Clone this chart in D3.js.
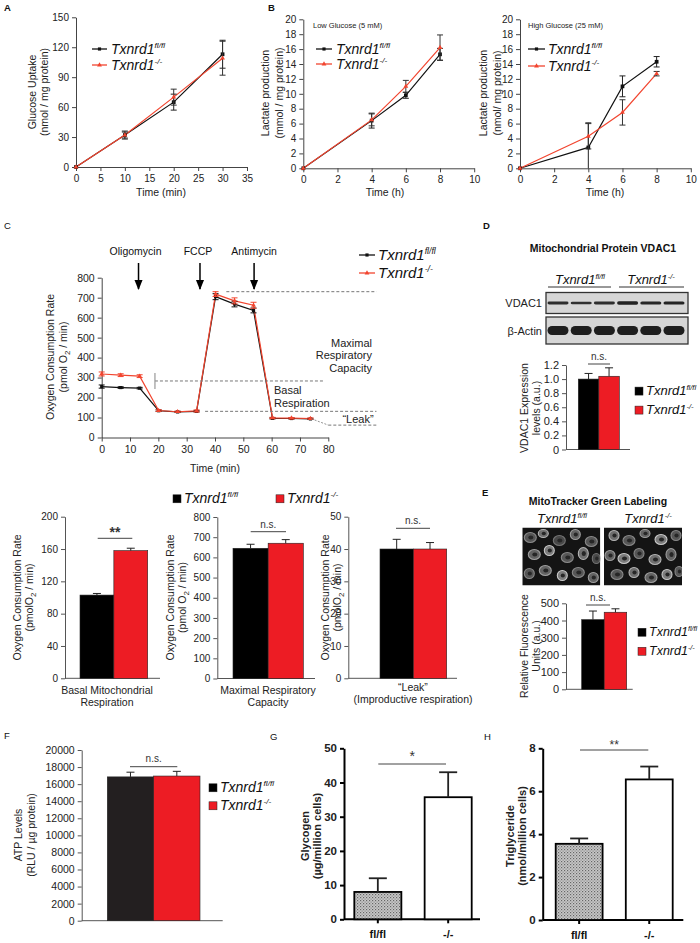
<!DOCTYPE html>
<html><head><meta charset="utf-8">
<script src="https://cdn.jsdelivr.net/npm/d3@7"></script>
<style>body{margin:0;background:#fff}svg{display:block}</style>
</head><body><svg id="chart" width="700" height="943"></svg>
<script>
// ---------------- DATA ----------------
const genotypes = ["fl/fl", "-/-"];
// A: glucose uptake
const glucTime = [0, 10, 20, 30];
const glucFl = [0, 32, 65, 113];
const glucFlErr = [0, 4, 8, 14];
const glucKo = [0, 32, 70, 109];
const glucKoErr = [0, 3, 8, 17];
const glucXTicks = [0, 5, 10, 15, 20, 25, 30, 35];
const glucYTicks = [0, 30, 60, 90, 120, 150];
// B: lactate production
const lacTime = [0, 4, 6, 8];
const lacLowFl = [0, 6.4, 9.8, 15.3];
const lacLowFlErr = [0, 1.0, 0.4, 0.8];
const lacLowKo = [0, 6.5, 11.0, 16.2];
const lacLowKoErr = [0, 0.8, 0.8, 1.7];
const lacHighFl = [0, 2.8, 11.0, 14.3];
const lacHighFlErr = [0, 3.3, 1.4, 0.7];
const lacHighKo = [0, 4.3, 7.5, 12.7];
const lacHighKoErr = [0, 1.7, 1.7, 0.3];
const lacXTicks = [0, 2, 4, 6, 8, 10];
const lacYTicks = [0, 2, 4, 6, 8, 10, 12, 14, 16, 18, 20];
// C: oxygen consumption trace
const ocrTime = [0, 6.7, 13.4, 20.1, 26.8, 33.5, 40.2, 46.9, 53.6, 60.3, 67, 73.7];
const ocrFl = [255, 250, 247, 134, 128, 131, 705, 668, 636, 96, 95, 93];
const ocrFlErr = [8, 4, 4, 4, 3, 3, 15, 14, 12, 3, 3, 3];
const ocrKo = [318, 312, 307, 135, 129, 133, 718, 684, 662, 98, 97, 95];
const ocrKoErr = [10, 7, 7, 4, 3, 5, 12, 15, 15, 3, 3, 3];
const ocrXTicks = [0, 10, 20, 30, 40, 50, 60, 70, 80];
const ocrYTicks = [0, 100, 200, 300, 400, 500, 600, 700, 800];
const injections = ["Oligomycin", "FCCP", "Antimycin"];
const injectionTimes = [13, 34.7, 53.8];
// C: summary bars
const basalResp = [103, 158];
const basalRespErr = [2, 3];
const maxResp = [645, 670];
const maxRespErr = [20, 18];
const leakResp = [40, 40];
const leakRespErr = [3, 2];
// D: VDAC1
const vdac1Expr = [1.0, 1.04];
const vdac1Err = [0.08, 0.12];
const vdac1Bands = [0.8, 0.75, 0.8, 0.95, 0.9, 0.92];
const actinBands = [1, 1, 1, 1, 1, 1];
// E: MitoTracker
const mitoFluor = [405, 448];
const mitoErr = [50, 20];
// F: ATP
const atpLevels = [16850, 16950];
const atpErr = [550, 550];
// G: glycogen
const glycogen = [8, 35.7];
const glycogenErr = [4, 7.3];
// H: triglyceride
const triglyceride = [3.55, 6.55];
const triglycerideErr = [0.25, 0.6];

// decorative micrograph cells (relative to image): cx, cy, rx, ry, brightness
const cellsFl = [[8,10,6,5,0.6],[21,6,5,4,0.8],[37,13,6,5,0.5],[53,7,5,5,0.7],[69,14,6,5,0.6],[12,27,6,5,0.7],[27,23,5,5,0.9],[45,30,6,5,0.6],[61,26,5,6,0.8],[74,31,4,5,0.5],[7,46,5,5,0.6],[23,43,6,5,0.7],[40,48,5,5,0.9],[56,45,6,5,0.6],[71,50,5,5,0.7]];
const cellsKo = [[10,8,5,5,0.8],[25,13,6,5,0.6],[41,6,5,4,0.7],[57,12,6,5,0.9],[72,8,5,5,0.6],[6,28,5,5,0.7],[20,31,6,5,0.9],[35,26,5,5,0.6],[51,32,6,5,0.8],[67,27,5,6,0.7],[13,47,6,5,0.6],[30,45,5,5,0.8],[47,50,6,5,0.7],[63,47,5,5,0.9],[75,44,4,5,0.6]];

// ---------------- HELPERS ----------------
const FONT = '"Liberation Sans", Arial, Helvetica, sans-serif';
const LRED = "#f2452f", BRED = "#ed1c24", BBLK = "#000";
const svg = d3.select("#chart").attr("font-family", FONT);
const defs = svg.append("defs");

function styleAxis(a, fs, color, weight, sw) {
  a.attr("font-family", FONT).attr("font-size", fs);
  a.select(".domain").attr("stroke", color).attr("stroke-width", sw || 1);
  a.selectAll(".tick line").attr("stroke", color).attr("stroke-width", sw || 1);
  a.selectAll(".tick text").attr("fill", "#222").attr("font-weight", weight || "normal");
}
function geno(x, y, sup, fs, anchor) {
  const t = svg.append("text").attr("x", x).attr("y", y).attr("font-size", fs)
    .attr("font-style", "italic").attr("text-anchor", anchor || "start").attr("fill", "#111");
  t.append("tspan").text("Txnrd1");
  t.append("tspan").attr("dy", -fs * 0.42).attr("font-size", fs * 0.58).text(sup);
  return t;
}
function supOf(c) { return c === "fl/fl" ? "fl/fl" : "-/-"; }
function vlabel(xs, cy, lines, fs, weight) {
  lines.forEach((segs, i) => {
    const t = svg.append("text").attr("transform", `translate(${xs[i]},${cy}) rotate(-90)`)
      .attr("text-anchor", "middle").attr("font-size", fs).attr("fill", "#222").attr("font-weight", weight || "normal");
    if (typeof segs === "string") { t.text(segs); return; }
    segs.forEach(s => {
      if (s.sub) {
        t.append("tspan").attr("dy", fs * 0.3).attr("font-size", fs * 0.75).text(s.sub);
        t.append("tspan").attr("dy", -fs * 0.3).text(s.after || "");
      } else t.append("tspan").text(s.t);
    });
  });
}
function txt(x, y, s, fs, anchor, weight, fill) {
  return svg.append("text").attr("x", x).attr("y", y).attr("font-size", fs)
    .attr("text-anchor", anchor || "start").attr("font-weight", weight || "normal").attr("fill", fill || "#222").text(s);
}

function lineChart(o) {
  const g = svg.append("g");
  const x = d3.scaleLinear().domain(o.xd).range(o.xr);
  const y = d3.scaleLinear().domain(o.yd).range(o.yr);
  const ax = g.append("g").attr("transform", `translate(0,${o.yr[0]})`)
    .call(d3.axisBottom(x).tickValues(o.xt).tickSizeInner(4).tickSizeOuter(0).tickPadding(4));
  const ay = g.append("g").attr("transform", `translate(${o.xr[0]},0)`)
    .call(d3.axisLeft(y).tickValues(o.yt).tickSizeInner(4).tickSizeOuter(0).tickPadding(3));
  styleAxis(ax, o.fs || 10, "#444"); styleAxis(ay, o.fs || 10, "#444");
  const all = o.series.map(s => s.t.map((t, i) => ({ t, v: s.v[i], e: s.e[i] })));
  o.series.forEach((s, k) => {
    g.append("path").datum(all[k]).attr("d", d3.line().x(p => x(p.t)).y(p => y(p.v)))
      .attr("fill", "none").attr("stroke", s.color).attr("stroke-width", 1.2);
  });
  o.series.forEach((s, k) => {
    const eb = g.append("g").attr("stroke", s.ec).attr("stroke-width", 1);
    all[k].filter(p => p.e > 0).forEach(p => {
      const lo = Math.max(o.yd[0], p.v - p.e), hi = p.v + p.e, cx = x(p.t);
      eb.append("line").attr("x1", cx).attr("x2", cx).attr("y1", y(lo)).attr("y2", y(hi));
      eb.append("line").attr("x1", cx - 3).attr("x2", cx + 3).attr("y1", y(hi)).attr("y2", y(hi));
      if (p.v - p.e >= o.yd[0]) eb.append("line").attr("x1", cx - 3).attr("x2", cx + 3).attr("y1", y(lo)).attr("y2", y(lo));
    });
    g.selectAll(null).data(all[k]).join("path").attr("d", d3.symbol(s.sym, s.size))
      .attr("transform", p => `translate(${x(p.t)},${y(p.v)})`).attr("fill", s.color);
  });
  return { g, x, y };
}
function lineLegend(x0, x1, ys, tx, fs, cols, syms) {
  genotypes.forEach((c, i) => {
    svg.append("line").attr("x1", x0).attr("x2", x1).attr("y1", ys[i]).attr("y2", ys[i]).attr("stroke", cols[i]).attr("stroke-width", 1.3);
    svg.append("path").attr("d", d3.symbol(syms[i], 10)).attr("transform", `translate(${(x0 + x1) / 2},${ys[i]})`).attr("fill", cols[i]);
    geno(tx, ys[i] + fs * 0.36, supOf(c), fs);
  });
}
function barChart(o) {
  const g = svg.append("g");
  const x = d3.scaleBand().domain(genotypes).range(o.br).paddingInner(o.pin || 0);
  const y = d3.scaleLinear().domain(o.yd).range(o.yr);
  const ay = g.append("g").attr("transform", `translate(${o.ax},0)`)
    .call(d3.axisLeft(y).tickValues(o.yt).tickSizeInner(o.tick || 4).tickSizeOuter(0).tickPadding(3).tickFormat(o.fmt || d3.format("d")));
  styleAxis(ay, o.fs || 10, o.axc || "#555", o.bold ? "bold" : "normal", o.sw);
  g.append("line").attr("x1", o.ax).attr("x2", o.axEnd).attr("y1", o.yr[0]).attr("y2", o.yr[0])
    .attr("stroke", o.axc || "#555").attr("stroke-width", o.sw || 1);
  g.selectAll(null).data(genotypes).join("rect")
    .attr("x", c => x(c)).attr("width", x.bandwidth())
    .attr("y", (c, i) => y(o.v[i])).attr("height", (c, i) => y(o.yd[0]) - y(o.v[i]))
    .attr("fill", (c, i) => o.fills[i]).attr("stroke", o.stroke || "#222").attr("stroke-width", o.bsw || 0.6);
  const cap = o.cap || 4;
  genotypes.forEach((c, i) => {
    const cx = x(c) + x.bandwidth() / 2;
    g.append("line").attr("x1", cx).attr("x2", cx).attr("y1", y(o.v[i])).attr("y2", y(o.v[i] + o.e[i])).attr("stroke", o.ec || "#222").attr("stroke-width", o.esw || 1);
    g.append("line").attr("x1", cx - cap).attr("x2", cx + cap).attr("y1", y(o.v[i] + o.e[i])).attr("y2", y(o.v[i] + o.e[i])).attr("stroke", o.ec || "#222").attr("stroke-width", o.esw || 1);
    if (o.xticks) {
      g.append("line").attr("x1", cx).attr("x2", cx).attr("y1", o.yr[0]).attr("y2", o.yr[0] + 4).attr("stroke", "#000").attr("stroke-width", o.sw || 1);
      txt(cx, o.yr[0] + 19, c, 11, "middle", "bold", "#111");
    }
  });
  if (o.sig) {
    const bx0 = o.sigX[0], bx1 = o.sigX[1];
    g.append("line").attr("x1", bx0).attr("x2", bx1).attr("y1", o.sigY).attr("y2", o.sigY).attr("stroke", "#444").attr("stroke-width", 1);
    txt((bx0 + bx1) / 2, o.sigY + o.sigDy, o.sig, o.sigFs || 9.5, "middle", o.sigW || "normal", "#333");
  }
  return { g, x, y };
}
function boxItem(x, y, fs, col, sup, sq) {
  svg.append("rect").attr("x", x).attr("y", y - sq / 2 - fs * 0.3).attr("width", sq).attr("height", sq)
    .attr("fill", col).attr("stroke", "#222").attr("stroke-width", 0.5);
  geno(x + sq + 3, y, sup, fs);
}
function boxLegend(x, ys, fs, cols, sq) {
  genotypes.forEach((c, i) => boxItem(x, ys[i], fs, cols[i], supOf(c), sq));
}

// ---------------- PANEL LETTERS ----------------
[["A", 4, 11, "bold"], ["B", 268, 11, "bold"], ["C", 4, 229, "normal"], ["D", 483, 229, "bold"], ["E", 482, 496, "bold"],
 ["F", 4, 739, "normal"], ["G", 270, 740, "normal"], ["H", 484, 740, "normal"]]
  .forEach(d => txt(d[1], d[2], d[0], 9.5, "start", d[3], "#111"));

// ---------------- A ----------------
lineChart({ xd: [0, 35], xr: [76, 247], yd: [0, 150], yr: [167, 17.3], xt: glucXTicks, yt: glucYTicks,
  series: [
    { t: glucTime, v: glucFl, e: glucFlErr, color: "#111", ec: "#222", sym: d3.symbolSquare, size: 14 },
    { t: glucTime, v: glucKo, e: glucKoErr, color: LRED, ec: "#333", sym: d3.symbolTriangle, size: 10 }] });
vlabel([36, 48], 92, ["Glucose Uptake", "(nmol / mg protein)"], 10.5);
txt(161, 196, "Time (min)", 10.5, "middle");
lineLegend(92, 107, [49, 65], 111, 14, ["#111", LRED], [d3.symbolSquare, d3.symbolTriangle]);

// ---------------- B low ----------------
lineChart({ xd: [0, 10], xr: [303.3, 474.2], yd: [0, 20], yr: [168.3, 19.3], xt: lacXTicks, yt: lacYTicks,
  series: [
    { t: lacTime, v: lacLowFl, e: lacLowFlErr, color: "#111", ec: "#222", sym: d3.symbolSquare, size: 14 },
    { t: lacTime, v: lacLowKo, e: lacLowKoErr, color: LRED, ec: "#333", sym: d3.symbolTriangle, size: 10 }] });
vlabel([269, 283], 93, ["Lactate production", "(mmol / mg protein)"], 10.5);
txt(313, 28, "Low Glucose (5 mM)", 7.5, "start");
txt(385, 196, "Time (h)", 10.5, "middle");
lineLegend(316, 332, [49, 64], 336, 14, ["#111", LRED], [d3.symbolSquare, d3.symbolTriangle]);

// ---------------- B high ----------------
lineChart({ xd: [0, 10], xr: [520, 690.8], yd: [0, 20], yr: [168.3, 19.3], xt: lacXTicks, yt: lacYTicks,
  series: [
    { t: lacTime, v: lacHighFl, e: lacHighFlErr, color: "#111", ec: "#222", sym: d3.symbolSquare, size: 14 },
    { t: lacTime, v: lacHighKo, e: lacHighKoErr, color: LRED, ec: "#333", sym: d3.symbolTriangle, size: 10 }] });
vlabel([487, 501], 93, ["Lactate production", "(nmol/ mg protein)"], 10.5);
txt(528, 28, "High Glucose (25 mM)", 7.5, "start");
txt(605, 196, "Time (h)", 10.5, "middle");
lineLegend(528, 545, [49, 66], 548, 14, ["#111", LRED], [d3.symbolSquare, d3.symbolTriangle]);

// ---------------- C trace ----------------
const C = lineChart({ xd: [0, 80], xr: [101.7, 328.3], yd: [0, 800], yr: [437.5, 277.7], xt: ocrXTicks, yt: ocrYTicks, fs: 10.5,
  series: [
    { t: ocrTime, v: ocrFl, e: ocrFlErr, color: "#111", ec: "#111", sym: d3.symbolSquare, size: 10 },
    { t: ocrTime, v: ocrKo, e: ocrKoErr, color: LRED, ec: LRED, sym: d3.symbolTriangle, size: 10 }] });
vlabel([54, 67], 357, ["Oxygen Consumption Rate", [{ t: "(pmol O" }, { sub: "2", after: " / min)" }]], 10.5);
txt(215, 472, "Time (min)", 10.5, "middle");
lineLegend(359, 375, [255, 273], 378, 15, ["#111", LRED], [d3.symbolSquare, d3.symbolTriangle]);
defs.append("marker").attr("id", "ah").attr("viewBox", "0 0 10 10").attr("refX", 9).attr("refY", 5)
  .attr("markerWidth", 7).attr("markerHeight", 7).attr("orient", "auto")
  .append("path").attr("d", "M0,1 L10,5 L0,9 Z").attr("fill", "#000");
injections.forEach((n, i) => {
  const cx = C.x(injectionTimes[i]);
  txt(cx - (i === 0 ? 3 : i === 1 ? 2 : 0), 255, n, 10.5, "middle", "normal", "#111");
  svg.append("line").attr("x1", cx).attr("x2", cx).attr("y1", 263).attr("y2", 289).attr("stroke", "#000").attr("stroke-width", 1.5).attr("marker-end", "url(#ah)");
});
function dash(t0, t1, v) {
  svg.append("line").attr("x1", C.x(t0)).attr("x2", C.x(t1)).attr("y1", C.y(v)).attr("y2", C.y(v))
    .attr("stroke", "#777").attr("stroke-width", 1).attr("stroke-dasharray", "3,2");
}
dash(44, 97, 730);
dash(18.8, 78.2, 283);
dash(36.5, 97, 131);
dash(80, 97, 62);
svg.append("line").attr("x1", C.x(18.8)).attr("x2", C.x(18.8)).attr("y1", C.y(323)).attr("y2", C.y(243)).attr("stroke", "#999").attr("stroke-width", 1.2);
svg.append("line").attr("x1", C.x(74)).attr("x2", C.x(80)).attr("y1", C.y(94)).attr("y2", C.y(62)).attr("stroke", "#777").attr("stroke-width", 0.8).attr("stroke-dasharray", "2,1.5");
txt(372, 346.5, "Maximal", 11, "end"); txt(372, 359, "Respiratory", 11, "end"); txt(372, 371.5, "Capacity", 11, "end");
txt(274, 394, "Basal", 11, "start"); txt(274, 406.5, "Respiration", 11, "start");
txt(358, 422.5, "\u201CLeak\u201D", 11, "middle");

// ---------------- C bars ----------------
boxItem(173, 503, 14, BBLK, "fl/fl", 8);
boxItem(276, 503, 14, BRED, "-/-", 8);
barChart({ ax: 65, axEnd: 160, br: [80, 147.7], yd: [0, 200], yr: [678.3, 516.7], yt: [0, 40, 80, 120, 160, 200],
  v: basalResp, e: basalRespErr, fills: [BBLK, BRED], sig: "**", sigY: 538.3, sigX: [97.7, 132.3], sigDy: -1, sigFs: 14, sigW: "bold" });
vlabel([21, 33], 597.5, ["Oxygen Consumption Rate", [{ t: "(pmolO" }, { sub: "2", after: " / min)" }]], 10.5);
txt(107, 694, "Basal Mitochondrial", 10.5, "middle"); txt(107, 706, "Respiration", 10.5, "middle");

barChart({ ax: 217.3, axEnd: 315, br: [233, 303.3], yd: [0, 800], yr: [678.5, 517], yt: [0, 100, 200, 300, 400, 500, 600, 700, 800],
  v: maxResp, e: maxRespErr, fills: [BBLK, BRED], sig: "n.s.", sigY: 531.7, sigX: [250.7, 286], sigDy: -4, sigFs: 10 });
vlabel([174, 186], 597.5, ["Oxygen Consumption Rate", [{ t: "(pmol O" }, { sub: "2", after: " / min)" }]], 10.5);
txt(268, 694, "Maximal Respiratory", 10.5, "middle"); txt(268, 706, "Capacity", 10.5, "middle");

barChart({ ax: 348.3, axEnd: 457, br: [380, 446.7], yd: [0, 50], yr: [678.3, 516.7], yt: [0, 10, 20, 30, 40, 50],
  v: leakResp, e: leakRespErr, fills: [BBLK, BRED], sig: "n.s.", sigY: 528.3, sigX: [396, 430], sigDy: -4, sigFs: 10 });
vlabel([329, 341], 597.5, ["Oxygen Consumption Rate", [{ t: "(pmolO" }, { sub: "2", after: " / min)" }]], 10.5);
txt(413, 691, "\u201CLeak\u201D", 10.5, "middle"); txt(413, 703, "(Improductive respiration)", 10.5, "middle");

// ---------------- D ----------------
txt(603, 252, "Mitochondrial Protein VDAC1", 10.5, "middle", "bold", "#111");
geno(580, 284, "fl/fl", 13, "middle");
geno(651, 284, "-/-", 13, "middle");
svg.append("line").attr("x1", 548).attr("x2", 611).attr("y1", 287).attr("y2", 287).attr("stroke", "#333");
svg.append("line").attr("x1", 619).attr("x2", 684).attr("y1", 287).attr("y2", 287).attr("stroke", "#333");
const laneX = d3.scalePoint().domain(d3.range(6)).range([558, 674]);
function blot(y0, y1, bands, bh, label) {
  svg.append("rect").attr("x", 546).attr("y", y0).attr("width", 142).attr("height", y1 - y0).attr("fill", "#d6d6d6").attr("stroke", "#333").attr("stroke-width", 1.3);
  bands.forEach((b, i) => {
    svg.append("rect").attr("x", laneX(i) - 10.5).attr("y", (y0 + y1) / 2 - bh / 2 * b).attr("width", 21).attr("height", bh * b)
      .attr("rx", bh / 2).attr("fill", "#1e1e1e").attr("opacity", 0.6 + 0.4 * b);
  });
  txt(542, (y0 + y1) / 2 + 4, label, 11, "end", "normal", "#222");
}
blot(292.5, 313.5, vdac1Bands, 3.5, "VDAC1");
blot(317, 344, actinBands, 9, "\u03B2-Actin");
barChart({ ax: 566, axEnd: 630, br: [578.3, 619.3], yd: [0, 1.2], yr: [449.5, 365], yt: [0, 0.2, 0.4, 0.6, 0.8, 1.0, 1.2],
  fmt: d => d === 0 ? "0" : d.toFixed(1), fs: 11,
  v: vdac1Expr, e: vdac1Err, fills: [BBLK, BRED], sig: "n.s.", sigY: 364, sigX: [588, 610], sigDy: -4, sigFs: 10 });
vlabel([528, 540], 408, ["VDAC1 Expression", "levels (a.u.)"], 10.5);
boxLegend(635, [395, 414], 13, [BBLK, BRED], 8);

// ---------------- E ----------------
txt(598, 505, "MitoTracker Green Labeling", 10.5, "middle", "bold", "#111");
geno(562, 523, "fl/fl", 13, "middle");
geno(648, 523, "-/-", 13, "middle");
function micro(x0, cells, id) {
  const w = 78, h = 58, y0 = 527.5;
  defs.append("clipPath").attr("id", id).append("rect").attr("x", x0).attr("y", y0).attr("width", w).attr("height", h);
  const g = svg.append("g").attr("clip-path", `url(#${id})`);
  g.append("rect").attr("x", x0).attr("y", y0).attr("width", w).attr("height", h).attr("fill", "#141414");
  cells.forEach(c => {
    const b = c[4];
    g.append("ellipse").attr("cx", x0 + c[0]).attr("cy", y0 + c[1]).attr("rx", c[2]).attr("ry", c[3])
      .attr("fill", d3.interpolateGreys(1 - 0.45 * b)).attr("stroke", d3.interpolateGreys(1 - 0.75 * b)).attr("stroke-width", 1.1);
    g.append("ellipse").attr("cx", x0 + c[0] + 0.5).attr("cy", y0 + c[1]).attr("rx", c[2] * 0.42).attr("ry", c[3] * 0.42).attr("fill", "#262626");
  });
}
micro(522.3, cellsFl, "m1");
micro(604, cellsKo, "m2");
barChart({ ax: 566, axEnd: 632.7, br: [581.7, 626.7], yd: [0, 500], yr: [689.3, 603.3], yt: [0, 100, 200, 300, 400, 500], fs: 11,
  v: mitoFluor, e: mitoErr, fills: [BBLK, BRED], sig: "n.s.", sigY: 605, sigX: [586, 610], sigDy: -4, sigFs: 10 });
vlabel([528, 540], 646, ["Relative Fluorescence", "Units (a.u.)"], 10.5);
boxLegend(638, [636, 655], 12.5, [BBLK, BRED], 8);

// ---------------- F ----------------
barChart({ ax: 81.7, axEnd: 222.7, br: [107.3, 200], yd: [0, 20000], yr: [920.7, 750], yt: d3.range(0, 20001, 2000), fs: 10.5,
  v: atpLevels, e: atpErr, fills: ["#231f20", BRED], sig: "n.s.", sigY: 766.7, sigX: [130, 177.3], sigDy: -5, sigFs: 10 });
vlabel([22, 35], 835, ["ATP Levels", "(RLU / \u00B5g protein)"], 10.5);
boxLegend(209, [792, 810], 14, [BBLK, BRED], 8);

// ---------------- G ----------------
const pat = defs.append("pattern").attr("id", "dots").attr("width", 3).attr("height", 3).attr("patternUnits", "userSpaceOnUse");
pat.append("rect").attr("width", 3).attr("height", 3).attr("fill", "#c8c8c8");
pat.append("rect").attr("width", 1.2).attr("height", 1.2).attr("fill", "#666");
pat.append("rect").attr("x", 1.5).attr("y", 1.5).attr("width", 1.2).attr("height", 1.2).attr("fill", "#888");
barChart({ ax: 344, axEnd: 480, br: [354.3, 471.7], pin: 0.331, yd: [0, 50], yr: [919.3, 748.3], yt: [0, 10, 20, 30, 40, 50],
  fs: 11.5, bold: true, axc: "#000", sw: 2, tick: 4, stroke: "#000", bsw: 1.8, esw: 1.8, cap: 9, xticks: true,
  v: glycogen, e: glycogenErr, fills: ["url(#dots)", "#fff"], sig: "*", sigY: 764, sigX: [378.3, 446], sigDy: -3, sigFs: 14 });
vlabel([309, 321], 836, ["Glycogen", "(\u00B5g/million cells)"], 11, "bold");

// ---------------- H ----------------
barChart({ ax: 542.7, axEnd: 683.3, br: [555.7, 672.7], pin: 0.331, yd: [0, 8], yr: [920, 748.3], yt: [0, 2, 4, 6, 8],
  fs: 11.5, bold: true, axc: "#000", sw: 2, tick: 4, stroke: "#000", bsw: 1.8, esw: 1.8, cap: 9, xticks: true,
  v: triglyceride, e: triglycerideErr, fills: ["url(#dots)", "#fff"], sig: "**", sigY: 750, sigX: [580, 648.3], sigDy: -1, sigFs: 12 });
vlabel([514, 526], 836, ["Triglyceride", "(nmol/million cells)"], 11, "bold");
</script>
</body></html>
